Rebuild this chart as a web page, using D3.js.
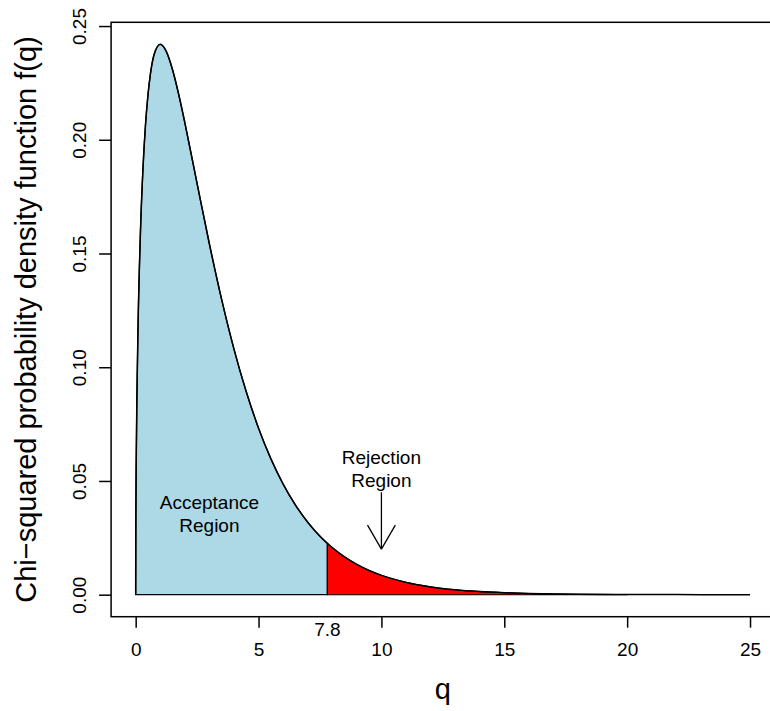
<!DOCTYPE html>
<html>
<head>
<meta charset="utf-8">
<script src="https://cdn.jsdelivr.net/npm/d3@7/dist/d3.min.js"></script>
<style>
  html, body { margin: 0; padding: 0; background: #fff; }
  svg { display: block; font-family: "Liberation Sans", Arial, Helvetica, sans-serif; }
</style>
</head>
<body>
<svg id="chart" width="770" height="711"></svg>
<script>
// Chi-squared density (q, f(q))
const qValues = [0, 0.005, 0.01, 0.02, 0.05, 0.1, 0.2, 0.3, 0.4, 0.5, 0.6, 0.75, 1.0, 1.25, 1.5, 1.75, 2.0, 2.5, 3.0, 3.5, 4.0, 4.5, 5.0, 5.5, 6.0, 6.5, 7.0, 7.5, 7.8, 8.0, 8.5, 9.0, 9.5, 10, 11, 12, 13, 14, 15, 16, 17, 18, 19, 20, 21, 22, 23, 24, 25];
const fValues = [0, 0.02814, 0.03970, 0.05586, 0.08700, 0.12001, 0.16144, 0.18807, 0.20658, 0.21969, 0.22893, 0.23746, 0.24197, 0.23874, 0.23080, 0.22000, 0.20755, 0.18072, 0.15418, 0.12970, 0.10798, 0.08920, 0.07322, 0.05981, 0.04865, 0.03944, 0.03187, 0.02569, 0.02255, 0.02067, 0.01659, 0.01330, 0.01064, 0.00850, 0.00541, 0.00343, 0.00216, 0.00136, 0.000855, 0.000535, 0.000335, 0.000209, 0.000130, 0.000081, 0.0000503, 0.0000313, 0.0000194, 0.0000120, 0.0000074];

const criticalValue = 7.8;
const rejectionEnd = 20;
const xTicks = [0, 5, 10, 15, 20, 25];
const yTicks = [0, 0.05, 0.10, 0.15, 0.20, 0.25];
const yTickLabels = ["0.00", "0.05", "0.10", "0.15", "0.20", "0.25"];
const xLabel = "q";
const yLabel = "Chi\u2212squared probability density function f(q)";
const acceptanceLabel = { q: 3, f: 0.035, lines: ["Acceptance", "Region"] };
const rejectionLabel = { q: 10, f: 0.055, lines: ["Rejection", "Region"] };
const arrowSpec = { q: 10, from: 0.045, to: 0.02 };

const data = qValues.map((q, i) => ({ q, f: fValues[i] }));

const svg = d3.select("#chart");

const xMin = 0, xMax = 25;
const xPad = 0.04 * (xMax - xMin);
const yMax = d3.max(fValues);
const yPad = 0.04 * yMax;

const x = d3.scaleLinear().domain([xMin - xPad, xMax + xPad]).range([111.1, 774.6]);
const y = d3.scaleLinear().domain([-yPad, yMax + yPad]).range([616.7, 22.3]);

const area = d3.area().x(d => x(d.q)).y0(y(0)).y1(d => y(d.f)).curve(d3.curveMonotoneX);
const line = d3.line().x(d => x(d.q)).y(d => y(d.f)).curve(d3.curveMonotoneX);

const accData = data.filter(d => d.q <= criticalValue);
const rejData = data.filter(d => d.q >= criticalValue && d.q <= rejectionEnd);

// acceptance region polygon
svg.append("path")
  .datum(accData)
  .attr("d", d => area(d) )
  .attr("fill", "#ADD8E6")
  .attr("stroke", "#000")
  .attr("stroke-width", 1.3)
  .attr("stroke-linejoin", "round");

// rejection region polygon
svg.append("path")
  .datum(rejData)
  .attr("d", d => area(d))
  .attr("fill", "#FF0000")
  .attr("stroke", "#000")
  .attr("stroke-width", 1.1)
  .attr("stroke-linejoin", "round");

// full curve
svg.append("path")
  .datum(data)
  .attr("d", line)
  .attr("fill", "none")
  .attr("stroke", "#000")
  .attr("stroke-width", 1.5);

// plot box
const [bx0, bx1] = x.range();
const [by0, by1] = y.range();
svg.append("rect")
  .attr("x", bx0).attr("y", by1)
  .attr("width", bx1 - bx0).attr("height", by0 - by1)
  .attr("fill", "none").attr("stroke", "#000").attr("stroke-width", 1.5);

// x axis
const xAxis = svg.append("g")
  .attr("transform", `translate(0,${by0})`)
  .call(d3.axisBottom(x).tickValues(xTicks).tickSize(11).tickPadding(15).tickFormat(d3.format("d")));
xAxis.select(".domain").remove();
xAxis.selectAll(".tick line").attr("stroke", "#000").attr("stroke-width", 1.5);
xAxis.selectAll(".tick text").attr("font-size", 19).attr("fill", "#000")
  .attr("font-family", "Liberation Sans, Arial, sans-serif");

// y axis
const yAxis = svg.append("g")
  .attr("transform", `translate(${bx0},0)`)
  .call(d3.axisLeft(y).tickValues(yTicks).tickSize(12).tickFormat((d, i) => yTickLabels[i]));
yAxis.select(".domain").remove();
yAxis.selectAll(".tick line").attr("stroke", "#000").attr("stroke-width", 1.5);
yAxis.selectAll(".tick text")
  .attr("font-size", 19).attr("fill", "#000")
  .attr("font-family", "Liberation Sans, Arial, sans-serif")
  .attr("text-anchor", "middle")
  .attr("x", null).attr("dy", null)
  .attr("transform", `translate(${85.6 - bx0},0) rotate(-90)`);

// critical value label
svg.append("text")
  .attr("x", x(criticalValue)).attr("y", 635.6)
  .attr("text-anchor", "middle").attr("font-size", 19)
  .text(String(criticalValue));

// axis titles
svg.append("text")
  .attr("x", (bx0 + bx1) / 2).attr("y", 699)
  .attr("text-anchor", "middle").attr("font-size", 29)
  .text(xLabel);
svg.append("text")
  .attr("transform", `translate(36,${(by0 + by1) / 2}) rotate(-90)`)
  .attr("text-anchor", "middle").attr("font-size", 29)
  .text(yLabel);

// annotations
function multiLabel(spec) {
  const t = svg.append("text")
    .attr("text-anchor", "middle").attr("font-size", 19).attr("fill", "#000");
  spec.lines.forEach((ln, i) => {
    t.append("tspan")
      .attr("x", x(spec.q))
      .attr("y", y(spec.f) - 5.6 + i * 22.7)
      .text(ln);
  });
}
multiLabel(acceptanceLabel);
multiLabel(rejectionLabel);

// arrow
const ax = x(arrowSpec.q), ay0 = y(arrowSpec.from), ay1 = y(arrowSpec.to);
svg.append("line").attr("x1", ax).attr("x2", ax).attr("y1", ay0).attr("y2", ay1)
  .attr("stroke", "#000").attr("stroke-width", 1.3);
const armLen = 27.8, ang = 30 * Math.PI / 180;
[-1, 1].forEach(s => {
  svg.append("line")
    .attr("x1", ax).attr("y1", ay1)
    .attr("x2", ax + s * armLen * Math.sin(ang)).attr("y2", ay1 - armLen * Math.cos(ang))
    .attr("stroke", "#000").attr("stroke-width", 1.3);
});
</script>
</body>
</html>
